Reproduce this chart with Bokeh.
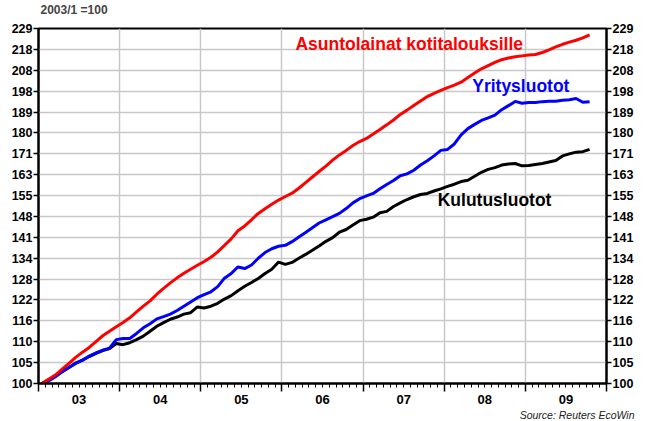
import numpy as np
from bokeh.plotting import figure
from bokeh.models import (Range1d, FixedTicker, LogAxis, LinearAxis, Label, Title,
                          CustomJSTickFormatter, ColumnDataSource)
from bokeh.embed import file_html
from bokeh.resources import INLINE

# ---------------- data (index, 2003/1 = 100), monthly 2003-01 .. 2009-10 -------------
months = [f"{2003 + k // 12}-{k % 12 + 1:02d}" for k in range(82)]

asuntolainat = [
    100.0, 101.0, 102.0, 103.4, 104.8, 106.3, 107.6, 108.8, 110.3, 111.8, 113.0, 114.2,
    115.3, 116.6, 118.2, 119.8, 121.3, 123.2, 124.9, 126.5, 128.0, 129.4, 130.6, 131.8,
    133.0, 134.3, 136.0, 138.1, 140.2, 142.9, 144.5, 146.6, 148.8, 150.4, 152.0, 153.5,
    154.8, 156.0, 157.8, 159.9, 162.0, 164.1, 166.2, 168.5, 170.6, 172.4, 174.4, 176.0,
    177.3, 179.1, 181.0, 183.0, 185.1, 187.5, 189.4, 191.5, 193.5, 195.5, 197.0, 198.3,
    199.6, 200.8, 202.2, 204.4, 206.6, 208.6, 210.2, 211.8, 213.1, 213.9, 214.6, 215.0,
    215.4, 215.7, 216.7, 218.0, 219.6, 220.9, 222.0, 223.0, 224.2, 225.8]

yritysluotot = [
    100.0, 100.6, 101.6, 102.8, 103.8, 104.8, 105.6, 106.6, 107.4, 108.1, 108.6, 110.8,
    111.1, 111.1, 112.4, 113.9, 115.0, 116.3, 116.9, 117.6, 118.6, 119.8, 121.0, 122.2,
    123.1, 123.9, 125.4, 127.9, 129.3, 131.3, 130.8, 131.9, 134.0, 135.8, 137.0, 137.8,
    138.1, 139.3, 140.8, 142.3, 143.9, 145.5, 146.6, 147.7, 148.8, 150.5, 152.5, 154.0,
    155.0, 155.9, 157.6, 159.2, 160.7, 162.5, 163.2, 164.6, 166.6, 168.3, 170.2, 172.4,
    172.8, 175.0, 178.8, 181.4, 183.2, 184.9, 186.0, 187.2, 189.6, 191.4, 193.3, 192.5,
    192.8, 192.8, 193.2, 193.4, 193.4, 193.8, 194.1, 194.6, 192.9, 193.2]

kulutusluotot = [
    100.0, 100.9, 101.9, 102.8, 103.8, 104.9, 105.6, 106.5, 107.3, 108.0, 108.5, 109.8,
    109.5, 110.0, 110.8, 111.7, 113.0, 114.3, 115.3, 116.2, 116.8, 117.6, 118.0, 119.6,
    119.3, 119.8, 120.6, 121.8, 122.8, 124.2, 125.5, 126.6, 127.8, 129.3, 130.6, 132.8,
    132.1, 132.7, 134.0, 135.2, 136.5, 137.9, 139.4, 140.6, 142.4, 143.3, 144.8, 146.3,
    146.8, 147.5, 149.0, 149.5, 151.2, 152.5, 153.7, 154.7, 155.5, 155.9, 156.8, 157.6,
    158.5, 159.3, 160.3, 160.8, 162.3, 163.8, 164.9, 165.6, 166.6, 167.0, 167.2, 166.3,
    166.4, 166.8, 167.2, 167.8, 168.4, 170.2, 171.0, 171.7, 171.9, 172.8]

y_tick_labels = [100, 105, 110, 116, 122, 128, 134, 141, 148, 155, 163, 171, 180,
                 189, 198, 208, 218, 229]
year_labels = ["03", "04", "05", "06", "07", "08", "09"]
series_names = ["Asuntolainat kotitalouksille", "Yritysluotot", "Kulutusluotot"]
base_text = "2003/1 =100"
source_text = "Source: Reuters EcoWin"

# ---------------- derived positions -------------
def month_pos(m):
    y, mo = m.split("-")
    return int(y) + (int(mo) - 0.5) / 12.0

x = [month_pos(m) for m in months]
y_ticks = [100 * 1.05 ** n for n in range(len(y_tick_labels))]
years = list(range(2003, 2011))
mid_years = [yr + 0.5 for yr in range(2003, 2010)]
month_ticks = [yr + k / 12.0 for yr in range(2003, 2010) for k in range(1, 12)]

FONT = "Liberation Sans"

p = figure(width=652, height=421, title=None,
           x_range=Range1d(2003, 2010), y_range=Range1d(100, y_ticks[-1]),
           y_axis_type="log", output_backend="svg", toolbar_location=None,
           min_border_left=38, min_border_right=46, min_border_top=28,
           min_border_bottom=38)
p.background_fill_color = "white"
p.border_fill_color = "white"
p.outline_line_color = "black"
p.outline_line_width = 2

# spacer (closest to the frame), then the base-period note above it
p.add_layout(Title(text=" ", text_font_size="1px", standoff=9), "above")
p.add_layout(Title(text=base_text, align="left", offset=2, text_font=FONT,
                   text_font_size="12px", text_font_style="bold",
                   vertical_align="bottom", standoff=0), "above")

fmt = CustomJSTickFormatter(args=dict(t=y_ticks, l=y_tick_labels), code="""
let k = 0, b = 1e9;
for (let i = 0; i < t.length; i++) { const d = Math.abs(t[i] - tick); if (d < b) { b = d; k = i; } }
return String(l[k]);
""")

def style_y(ax):
    ax.ticker = FixedTicker(ticks=y_ticks, minor_ticks=[])
    ax.formatter = fmt
    ax.major_tick_out = 5
    ax.major_tick_in = 0
    ax.minor_tick_out = 0
    ax.minor_tick_in = 0
    ax.major_label_standoff = 1
    ax.axis_line_width = 2
    ax.major_tick_line_width = 1.5
    ax.major_label_text_font = FONT
    ax.major_label_text_font_style = "bold"
    ax.major_label_text_font_size = "12.5px"
    ax.major_label_text_color = "black"

style_y(p.yaxis[0])
right = LogAxis()
style_y(right)
p.add_layout(right, "right")

# bottom axis: year-boundary ticks (long) and month ticks (short), no labels
xa = p.xaxis[0]
xa.ticker = FixedTicker(ticks=years, minor_ticks=month_ticks)
xa.formatter = CustomJSTickFormatter(code="return '';")
xa.major_tick_out = 8
xa.major_tick_in = 0
xa.minor_tick_out = 4
xa.minor_tick_in = 0
xa.axis_line_width = 2
xa.major_tick_line_width = 1.5
xa.minor_tick_line_width = 1
xa.major_label_text_font_size = "0px"
xa.major_label_standoff = 0

# second bottom axis: year labels centred in each year
xl = LinearAxis(ticker=FixedTicker(ticks=mid_years, minor_ticks=[]),
                formatter=CustomJSTickFormatter(args=dict(l=year_labels),
                    code="return l[Math.round(tick - 2003.5)];"))
xl.major_tick_out = 0
xl.major_tick_in = 0
xl.minor_tick_out = 0
xl.minor_tick_in = 0
xl.axis_line_color = None
xl.major_label_standoff = 3
xl.major_label_text_font = FONT
xl.major_label_text_font_style = "bold"
xl.major_label_text_font_size = "13px"
xl.major_label_text_color = "black"
p.add_layout(xl, "below")

src_title = Title(text=source_text, align="right", offset=-28, text_font=FONT,
                  text_font_size="10.5px", text_font_style="italic",
                  text_color="#222222", standoff=0)
p.add_layout(src_title, "below")

p.xgrid.ticker = FixedTicker(ticks=years[1:-1])
p.ygrid.ticker = FixedTicker(ticks=y_ticks)
for g in (p.xgrid, p.ygrid):
    g.grid_line_color = "#c8c8c8"
    g.grid_line_width = 1.5

src = ColumnDataSource(dict(x=x, a=asuntolainat, y=yritysluotot, k=kulutusluotot))
p.line("x", "k", source=src, line_color="black", line_width=3)
p.line("x", "y", source=src, line_color="#0000ff", line_width=3)
p.line("x", "a", source=src, line_color="#ff0000", line_width=3)

def lab(xv, yv, text, color="black", size="17.5px", style="bold", align="left"):
    p.add_layout(Label(x=xv, y=yv, text=text, text_color=color, text_font=FONT,
                       text_font_size=size, text_font_style=style,
                       text_align=align, text_baseline="middle"))

lab(2006.167, 221.1, series_names[0], "#ff0000")
lab(2008.345, 200.6, series_names[1], "#0000ff")
lab(2007.92, 153.6, series_names[2], "black")

open("out.html", "w").write(file_html(p, INLINE))
